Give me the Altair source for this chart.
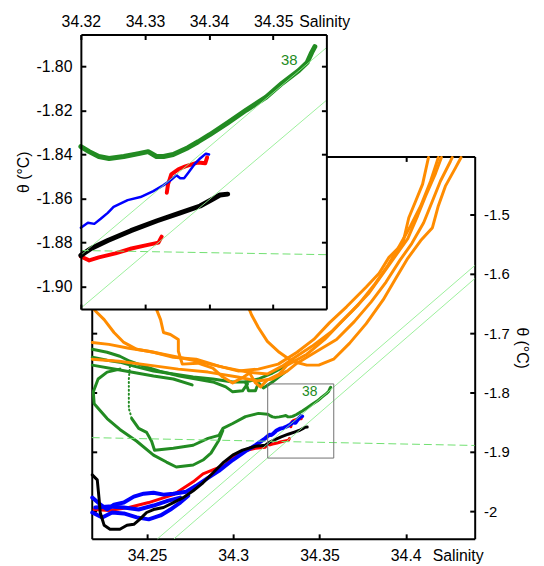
import altair as alt
import pandas as pd

FONT = "Liberation Sans, Arial, sans-serif"

# ---------------- axis domains and ticks ----------------
MAIN_S = [34.218, 34.44]
MAIN_T = [-2.046, -1.403]
INSET_S = [34.32, 34.3583]
INSET_T = [-1.9102, -1.7855]

MAIN_S_TICKS = [34.25, 34.3, 34.35, 34.4]
MAIN_T_TICKS = [-2.0, -1.9, -1.8, -1.7, -1.6, -1.5]
INSET_S_TICKS = [34.32, 34.33, 34.34, 34.35]
INSET_T_TICKS = [-1.90, -1.88, -1.86, -1.84, -1.82, -1.80]

# ---------------- traces (salinity S, potential temperature T) ----------------
GDOT_S = [34.2401, 34.2395, 34.2395, 34.2395, 34.2412]
GDOT_T = [-1.7556, -1.7772, -1.8021, -1.8271, -1.8437]
G38_S = [34.2412, 34.2452, 34.2498, 34.2527, 34.2544, 34.2653, 34.2768,
         34.2854, 34.2917, 34.2940, 34.2997, 34.3071, 34.3146,
         34.3200, 34.3213, 34.3228, 34.3244, 34.3267, 34.3290, 34.3305, 34.3318, 34.3329, 34.3344, 34.3367,
         34.3383, 34.3401, 34.3429, 34.3458, 34.3489, 34.3514, 34.3540, 34.3553, 34.3560, 34.3565]
G38_T = [-1.8437, -1.8603, -1.8670, -1.8819, -1.8969, -1.8936, -1.8886,
         -1.8770, -1.8720, -1.8603, -1.8520, -1.8404, -1.8350,
         -1.8364, -1.8387, -1.8409, -1.8418, -1.8409, -1.8396, -1.8387, -1.8409, -1.8409, -1.8400, -1.8369,
         -1.8342, -1.8310, -1.8256, -1.8198, -1.8139, -1.8076, -1.8018, -1.7982, -1.7937, -1.7910]
GB_S = [34.2343, 34.2269, 34.2217, 34.2189, 34.2194, 34.2269, 34.2343, 34.2441, 34.2538, 34.2613, 34.2670,
        34.2768, 34.2825, 34.2871, 34.2917, 34.2940]
GB_T = [-1.7606, -1.7656, -1.7772, -1.7988, -1.8188, -1.8437, -1.8620, -1.8819, -1.9052, -1.9169, -1.9252,
        -1.9219, -1.9135, -1.9019, -1.8803, -1.8636]
GC_S = [34.2183, 34.2269, 34.2343, 34.2401, 34.2481, 34.2573, 34.2688, 34.2785, 34.2882, 34.2957, 34.2997, 34.3054, 34.3083]
GC_T = [-1.7273, -1.7323, -1.7389, -1.7473, -1.7556, -1.7639, -1.7722, -1.7772, -1.7822, -1.7905, -1.7988, -1.7971, -1.7855]
GD_S = [34.2183, 34.2269, 34.2343, 34.2424, 34.2538, 34.2653, 34.2768, 34.2882, 34.2997, 34.3071, 34.3146, 34.3227, 34.3301, 34.3347]
GD_T = [-1.7406, -1.7456, -1.7489, -1.7556, -1.7639, -1.7689, -1.7739, -1.7772, -1.7822, -1.7822, -1.7772, -1.7672, -1.7556, -1.7456]
GE_S = [34.2183, 34.2343, 34.2538, 34.2653, 34.2762]
GE_T = [-1.7539, -1.7622, -1.7722, -1.7772, -1.7872]
GF_S = [34.3071, 34.3089, 34.3129, 34.3146, 34.3175, 34.3227, 34.3301]
GF_T = [-1.7822, -1.7971, -1.7971, -1.7838, -1.7922, -1.7822, -1.7656]

OA_S = [34.2189, 34.2194, 34.2252, 34.2309, 34.2366, 34.2441, 34.2538, 34.2653, 34.2785, 34.2917, 34.3032, 34.3146,
        34.3261, 34.3370, 34.3467, 34.3559, 34.3657, 34.3771, 34.3846, 34.3903, 34.3983, 34.4018, 34.4058, 34.4098, 34.4132]
OA_T = [-1.6442, -1.6608, -1.6774, -1.6990, -1.7157, -1.7273, -1.7323, -1.7406, -1.7439, -1.7556, -1.7639, -1.7606,
        -1.7522, -1.7323, -1.7107, -1.6824, -1.6558, -1.6225, -1.5993, -1.5727, -1.5494, -1.5061, -1.4779, -1.4496, -1.4047]
OB_S = [34.2183, 34.2280, 34.2395, 34.2510, 34.2653, 34.2796, 34.2940, 34.3083, 34.3198, 34.3284, 34.3341, 34.3456,
        34.3571, 34.3685, 34.3788, 34.3874, 34.3943, 34.4012, 34.4069, 34.4115, 34.4173, 34.4207]
OB_T = [-1.7157, -1.7190, -1.7256, -1.7306, -1.7389, -1.7473, -1.7572, -1.7656, -1.7689, -1.7556, -1.7439, -1.7223,
        -1.6974, -1.6641, -1.6325, -1.5976, -1.5693, -1.5411, -1.5028, -1.4696, -1.4313, -1.4047]
OC_S = [34.2183, 34.2338, 34.2510, 34.2682, 34.2854, 34.3026, 34.3140, 34.3227, 34.3313, 34.3370, 34.3485, 34.3599,
        34.3702, 34.3800, 34.3886, 34.3966, 34.4035, 34.4104, 34.4155, 34.4201, 34.4259, 34.4270]
OC_T = [-1.7439, -1.7473, -1.7539, -1.7606, -1.7656, -1.7739, -1.7805, -1.7772, -1.7639, -1.7506, -1.7306, -1.7107,
        -1.6807, -1.6475, -1.6142, -1.5777, -1.5494, -1.5145, -1.4779, -1.4446, -1.4114, -1.4047]
OD_S = [34.3083, 34.3106, 34.3146, 34.3198, 34.3267, 34.3341, 34.3427, 34.3496, 34.3582, 34.3674, 34.3771, 34.3869,
        34.3943, 34.4012, 34.4087, 34.4155, 34.4189, 34.4230, 34.4287, 34.4321]
OD_T = [-1.6525, -1.6691, -1.6907, -1.7140, -1.7323, -1.7473, -1.7539, -1.7539, -1.7439, -1.7173, -1.6841, -1.6442,
        -1.6076, -1.5743, -1.5444, -1.5228, -1.4862, -1.4529, -1.4230, -1.4047]
OE_S = [34.2556, 34.2579, 34.2596, 34.2636, 34.2682, 34.2682, 34.2705, 34.2796, 34.2882, 34.2940, 34.2997, 34.3060,
        34.3095, 34.3129, 34.3158, 34.3198, 34.3267, 34.3313, 34.3427, 34.3530, 34.3628, 34.3725, 34.3817, 34.3897,
        34.3955, 34.4029, 34.4087, 34.4144, 34.4178, 34.4189]
OE_T = [-1.6608, -1.6774, -1.6990, -1.7024, -1.7107, -1.7306, -1.7522, -1.7506, -1.7589, -1.7739, -1.7838, -1.7739,
        -1.7672, -1.7838, -1.7905, -1.7789, -1.7689, -1.7539, -1.7356, -1.7107, -1.6807, -1.6525, -1.6192, -1.5860,
        -1.5577, -1.5194, -1.4862, -1.4446, -1.4147, -1.4047]

RL_S = [34.2194, 34.2280, 34.2395, 34.2510, 34.2653, 34.2768, 34.2825, 34.2882, 34.2957, 34.2997, 34.3054, 34.3129,
        34.3186, 34.3200, 34.3213, 34.3228, 34.3254, 34.3279, 34.3301, 34.3321, 34.3326]
RL_T = [-1.9967, -1.9983, -1.9933, -1.9850, -1.9717, -1.9501, -1.9368, -1.9302, -1.9218, -1.9085, -1.8986, -1.8936,
        -1.8919, -1.8863, -1.8881, -1.8867, -1.8849, -1.8827, -1.8813, -1.8800, -1.8773]
RU_S = [34.3334, 34.3336, 34.3341, 34.3352, 34.3363, 34.3383, 34.3394, 34.3397]
RU_T = [-1.8574, -1.8535, -1.8490, -1.8467, -1.8454, -1.8436, -1.8440, -1.8413]

B1_S = [34.2183, 34.2223, 34.2269, 34.2309, 34.2366, 34.2424, 34.2481, 34.2538, 34.2596, 34.2653, 34.2728, 34.2785,
        34.2854, 34.2917, 34.2997, 34.3072, 34.3129, 34.3186,
        34.3200, 34.3211, 34.3221, 34.3231, 34.3242, 34.3251, 34.3273, 34.3293, 34.3313, 34.3329, 34.3340, 34.3349,
        34.3355, 34.3361, 34.3367, 34.3377, 34.3386, 34.3395, 34.3400]
B1_T = [-1.9767, -1.9867, -1.9967, -1.9884, -1.9850, -1.9751, -1.9701, -1.9684, -1.9717, -1.9701, -1.9667, -1.9568,
        -1.9435, -1.9318, -1.9135, -1.8986, -1.8886, -1.8770,
        -1.8733, -1.8710, -1.8715, -1.8692, -1.8665, -1.8638, -1.8607, -1.8593, -1.8566, -1.8539, -1.8517, -1.8494,
        -1.8508, -1.8508, -1.8485, -1.8445, -1.8418, -1.8396, -1.8400]
B2_S = [34.2183, 34.2241, 34.2298, 34.2366, 34.2441, 34.2510, 34.2579, 34.2636, 34.2693, 34.2739]
B2_T = [-2.0017, -2.0100, -2.0017, -2.0033, -2.0100, -2.0133, -2.0067, -1.9967, -1.9850, -1.9734]
B3_S = [34.2200, 34.2280, 34.2366, 34.2452, 34.2538, 34.2624, 34.2693]
B3_T = [-1.9933, -1.9917, -1.9933, -1.9967, -1.9900, -1.9817, -1.9767]

K_S = [34.2183, 34.2212, 34.2223, 34.2229, 34.2252, 34.2286, 34.2343, 34.2384, 34.2424, 34.2458, 34.2498, 34.2538,
       34.2596, 34.2653, 34.2710, 34.2768, 34.2825, 34.2882, 34.2940, 34.2997, 34.3054, 34.3129, 34.3186,
       34.3200, 34.3216, 34.3242, 34.3278, 34.3319, 34.3355, 34.3386, 34.3406, 34.3417, 34.3429]
K_T = [-1.9385, -1.9468, -1.9800, -2.0017, -2.0233, -2.0300, -2.0300, -2.0233, -2.0216, -2.0133, -2.0017, -1.9967,
       -1.9933, -1.9850, -1.9767, -1.9651, -1.9518, -1.9352, -1.9185, -1.9052, -1.8969, -1.8903, -1.8886,
       -1.8858, -1.8827, -1.8791, -1.8746, -1.8701, -1.8665, -1.8634, -1.8602, -1.8584, -1.8580]

# reference lines
MAIN_REF_S = [[34.2561, 34.44], [34.2657, 34.44]]
MAIN_REF_T = [[-2.046, -1.5865], [-2.046, -1.6085]]
INSET_REF_S = [[34.32, 34.3583], [34.32, 34.3583]]
INSET_REF_T = [[-1.8857, -1.7915], [-1.9098, -1.8154]]
MAIN_DASH_S = [34.218, 34.44]
MAIN_DASH_T = [-1.8758, -1.8890]
INSET_DASH_S = [34.32, 34.3583]
INSET_DASH_T = [-1.8836, -1.8855]

LABEL_TEXT = ["38"]
MAIN_LABEL_S = [34.3444]
MAIN_LABEL_T = [-1.7988]
INSET_LABEL_S = [34.3525]
INSET_LABEL_T = [-1.7973]

# ---------------- styling / layout ----------------
W, H = 398.3, 510
RANGES = {
    "main": ([11, 398.3], [510, 123.3], MAIN_S, MAIN_T),
    "inset": ([0, 248.3], [277.6, 0], INSET_S, INSET_T),
}
GROUPS = [  # name, color, main width, inset width, dashed?, traces
    ("greendot", "#228b22", 2, 2, True, [(GDOT_S, GDOT_T)]),
    ("green", "#228b22", 3, 5, False, [(G38_S, G38_T), (GB_S, GB_T), (GC_S, GC_T), (GD_S, GD_T), (GE_S, GE_T), (GF_S, GF_T)]),
    ("orange", "#ff8c00", 3, 3, False, [(OA_S, OA_T), (OB_S, OB_T), (OC_S, OC_T), (OD_S, OD_T), (OE_S, OE_T)]),
    ("red", "#ff0000", 3, 4, False, [(RL_S, RL_T), (RU_S, RU_T)]),
    ("blue", "#0000ff", 4, 2.5, False, [(B1_S, B1_T), (B2_S, B2_T), (B3_S, B3_T)]),
    ("black", "#000000", 3, 5, False, [(K_S, K_T)]),
]

AXC = dict(grid=False, domainColor="black", domainWidth=2, tickColor="black", tickWidth=2,
           labelColor="black", labelFont=FONT, labelFlush=False, labelOverlap=False,
           titleColor="black", titleFont=FONT, titleFontSize=16, titleFontWeight="normal")
MINUS = "replace(datum.label, '\u2212', '-')"


def frame_ax(orient, offset, z):
    return alt.Axis(orient=orient, offset=offset, zindex=z, domain=True, ticks=False, labels=False,
                    title=None, **AXC)


def tick_ax(orient, offset, z, values):
    return alt.Axis(orient=orient, offset=offset, zindex=z, domain=False, ticks=True, tickSize=5,
                    labels=False, values=values, title=None, **AXC)


def label_ax(orient, z, values, fmt, pad, size, title, **extra):
    return alt.Axis(orient=orient, offset=0, zindex=z, domain=True, ticks=False, tickSize=0, labels=True,
                    values=values, format=fmt, labelExpr=MINUS, labelPadding=pad, labelFontSize=size,
                    title=title, **extra, **AXC)


def enc(view, xaxis, yaxis, rect=False):
    rx, ry, dx, dy = RANGES[view]
    e = dict(
        x=alt.X("S:Q", scale=alt.Scale(domain=dx, range=rx, nice=False, zero=False), axis=xaxis),
        y=alt.Y("T:Q", scale=alt.Scale(domain=dy, range=ry, nice=False, zero=False), axis=yaxis),
    )
    if rect:
        e["x2"] = "S2:Q"
        e["y2"] = "T2:Q"
    return e


INSET_FILTER = (f"datum.S >= {INSET_S[0]} && datum.S <= {INSET_S[1]} && "
                f"datum.T >= {INSET_T[0]} && datum.T <= {INSET_T[1]}")


def group_df(traces):
    rows = []
    for k, (s, t) in enumerate(traces):
        for i, (a, b) in enumerate(zip(s, t)):
            rows.append({"trace": k, "i": i, "S": a, "T": b})
    return pd.DataFrame(rows)


def lines_df(s_lists, t_lists):
    return group_df(list(zip(s_lists, t_lists)))


def line_mark(chart, color, width, dashed):
    kw = dict(color=color, strokeWidth=width, strokeCap="round", strokeJoin="round")
    if dashed:
        kw["strokeDash"] = [1, 3]
    return chart.mark_line(**kw)


# ---------------- main view ----------------
layers = []
main_axes = {
    "green": (label_ax("bottom", 0, MAIN_S_TICKS, "~g", 9, 16, "Salinity", titleX=355.3, titleY=9,
                       titleAlign="left", titleBaseline="top", titleAngle=0),
              label_ax("right", 0, MAIN_T_TICKS, "~g", 9, 15, "\u03b8 (\u00b0C)")),
}
for name, color, wm, wi, dashed, traces in GROUPS:
    xa, ya = main_axes.get(name, (None, None))
    layers.append(
        line_mark(alt.Chart(group_df(traces)), color, wm, dashed)
        .encode(**enc("main", xa, ya), detail="trace:N", order="i:Q")
    )
layers.append(
    alt.Chart(lines_df(MAIN_REF_S, MAIN_REF_T)).mark_line(color="#90ee90", strokeWidth=0.9)
    .encode(**enc("main", frame_ax("top", -123.3, 0), frame_ax("left", -11, 0)), detail="trace:N", order="i:Q")
)
layers.append(
    alt.Chart(lines_df([MAIN_DASH_S], [MAIN_DASH_T])).mark_line(color="#6fe06f", strokeWidth=1, strokeDash=[8, 4])
    .encode(**enc("main", tick_ax("bottom", -5, 0, MAIN_S_TICKS), tick_ax("right", -5, 0, MAIN_T_TICKS)),
            order="i:Q")
)
box_df = pd.DataFrame({"S": [INSET_S[0]], "S2": [INSET_S[1]], "T": [INSET_T[0]], "T2": [INSET_T[1]]})
layers.append(
    alt.Chart(box_df).mark_rect(fillOpacity=0, stroke="#707070", strokeWidth=1)
    .encode(**enc("main", tick_ax("top", -128.3, 0, MAIN_S_TICKS), tick_ax("left", -16, 0, MAIN_T_TICKS), rect=True))
)
layers.append(
    alt.Chart(pd.DataFrame({"S": MAIN_LABEL_S, "T": MAIN_LABEL_T, "txt": LABEL_TEXT}))
    .mark_text(color="#228b22", fontSize=14, font=FONT, align="center", baseline="middle")
    .encode(**enc("main", None, None), text="txt:N")
)

# ---------------- inset view ----------------
layers.append(
    alt.Chart(box_df).mark_rect(color="white", opacity=1)
    .encode(**enc("inset",
                  label_ax("top", 1, INSET_S_TICKS, ".2f", 5, 16, "Salinity", titleX=220.3, titleY=-5,
                           titleAlign="left", titleBaseline="bottom", titleAngle=0),
                  label_ax("left", 1, INSET_T_TICKS, ".2f", 9, 16, "\u03b8 (\u00b0C)"), rect=True))
)
inset_axes = {"green": (frame_ax("bottom", -232.4, 1), frame_ax("right", -150, 1))}
for name, color, wm, wi, dashed, traces in GROUPS:
    xa, ya = inset_axes.get(name, (None, None))
    layers.append(
        line_mark(alt.Chart(group_df(traces)).transform_filter(INSET_FILTER), color, wi, dashed)
        .encode(**enc("inset", xa, ya), detail="trace:N", order="i:Q")
    )
layers.append(
    alt.Chart(lines_df(INSET_REF_S, INSET_REF_T)).mark_line(color="#90ee90", strokeWidth=0.9)
    .encode(**enc("inset", tick_ax("top", -5, 1, INSET_S_TICKS), tick_ax("left", -5, 1, INSET_T_TICKS)),
            detail="trace:N", order="i:Q")
)
layers.append(
    alt.Chart(lines_df([INSET_DASH_S], [INSET_DASH_T])).mark_line(color="#6fe06f", strokeWidth=1, strokeDash=[8, 4])
    .encode(**enc("inset", tick_ax("bottom", -237.4, 1, INSET_S_TICKS), tick_ax("right", -155, 1, INSET_T_TICKS)),
            order="i:Q")
)
layers.append(
    alt.Chart(pd.DataFrame({"S": INSET_LABEL_S, "T": INSET_LABEL_T, "txt": LABEL_TEXT}))
    .mark_text(color="#228b22", fontSize=15, font=FONT, align="center", baseline="middle")
    .encode(**enc("inset", None, None), text="txt:N")
)

chart = (
    alt.layer(*layers)
    .resolve_scale(x="independent", y="independent")
    .resolve_axis(x="independent", y="independent")
    .properties(width=W, height=H, autosize=alt.AutoSizeParams(type="none"),
                padding={"left": 73.7, "top": 23.7, "right": 62, "bottom": 24})
    .configure_view(stroke="transparent")
)

chart.save("out.html", embed_options={"renderer": "svg", "actions": False})
